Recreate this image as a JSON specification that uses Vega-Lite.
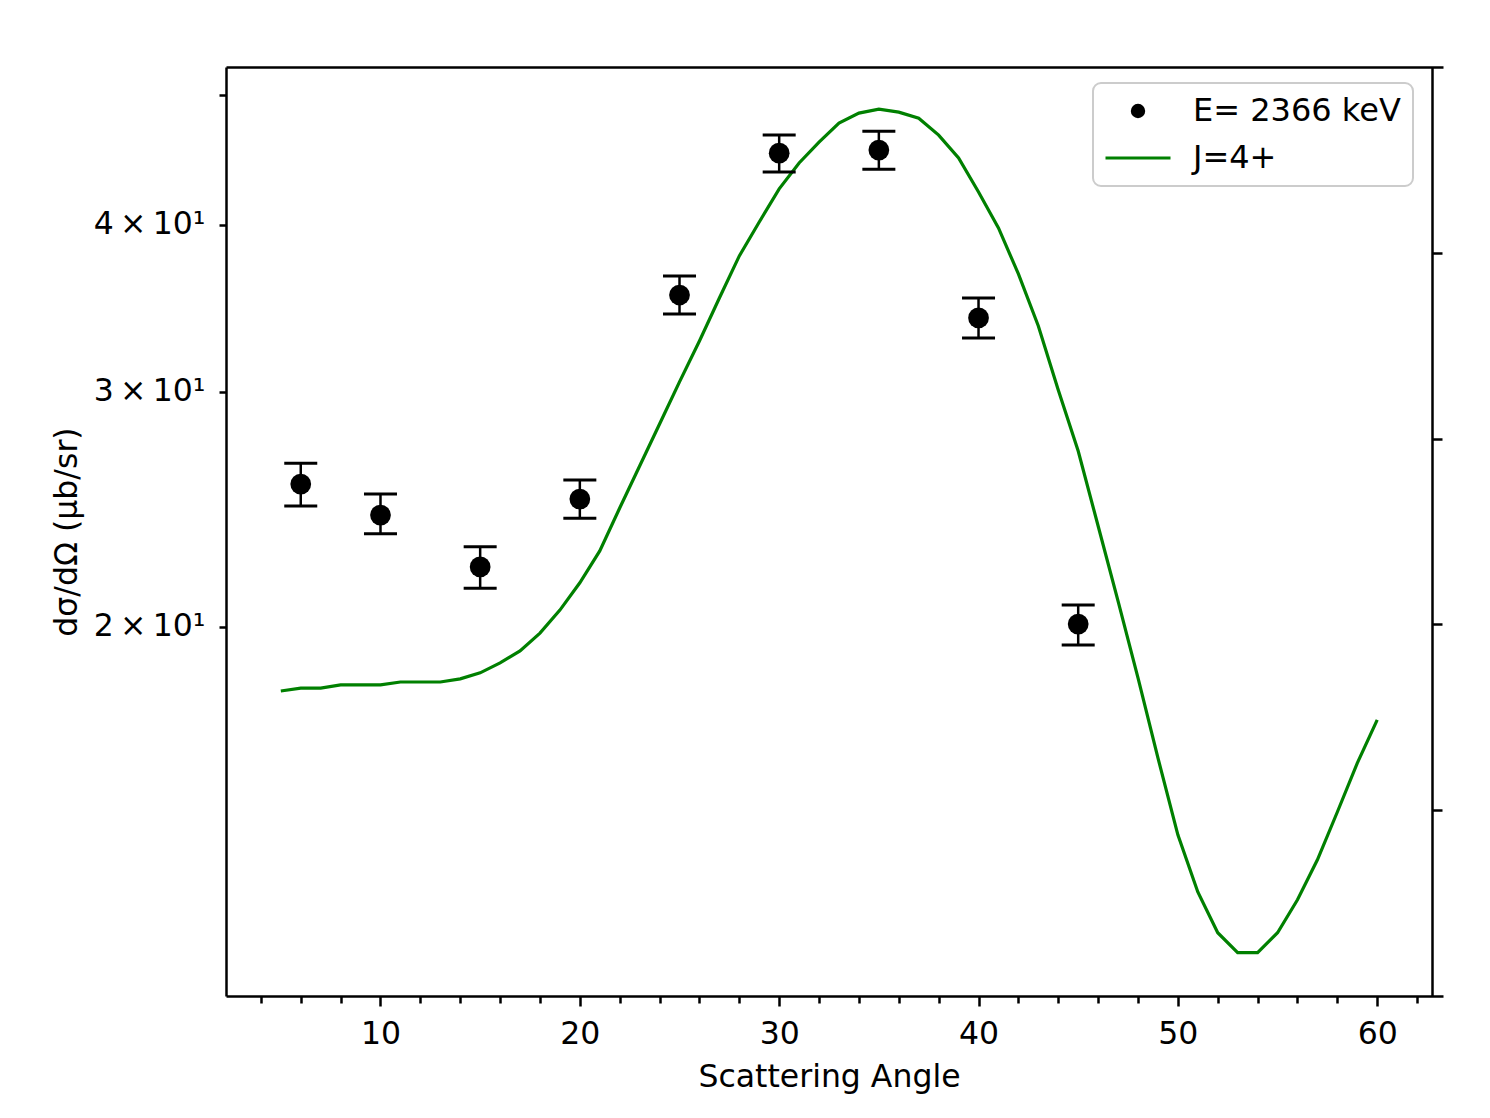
{
  "$schema": "https://vega.github.io/schema/vega-lite/v6.json",
  "autosize": "none",
  "width": 1217,
  "height": 929,
  "padding": {"left": 226, "top": 67, "right": 47, "bottom": 122},
  "background": "white",
  "config": {
    "view": {"stroke": null},
    "axis": {
      "domainColor": "black", "domainWidth": 2.5, "tickColor": "black", "tickWidth": 2.5,
      "grid": false, "labelFont": "DejaVu Sans", "labelFontSize": 31.5, "labelColor": "black",
      "titleFont": "DejaVu Sans", "titleFontSize": 31.5, "titleFontWeight": "normal", "titleColor": "black"
    },
    "legend": {"labelFont": "DejaVu Sans", "labelFontSize": 32, "labelColor": "black", "labelLimit": 0}
  },
  "datasets": {
    "theory": [
      {"angle": 5, "xs": 17.91}, {"angle": 6, "xs": 18.00}, {"angle": 7, "xs": 18.00}, {"angle": 8, "xs": 18.10},
      {"angle": 9, "xs": 18.10}, {"angle": 10, "xs": 18.10}, {"angle": 11, "xs": 18.19}, {"angle": 12, "xs": 18.19},
      {"angle": 13, "xs": 18.19}, {"angle": 14, "xs": 18.29}, {"angle": 15, "xs": 18.48}, {"angle": 16, "xs": 18.80},
      {"angle": 17, "xs": 19.19}, {"angle": 18, "xs": 19.79}, {"angle": 19, "xs": 20.59}, {"angle": 20, "xs": 21.58},
      {"angle": 21, "xs": 22.80}, {"angle": 22, "xs": 24.55}, {"angle": 23, "xs": 26.39}, {"angle": 24, "xs": 28.37},
      {"angle": 25, "xs": 30.51}, {"angle": 26, "xs": 32.73}, {"angle": 27, "xs": 35.25}, {"angle": 28, "xs": 37.90},
      {"angle": 29, "xs": 40.18}, {"angle": 30, "xs": 42.54}, {"angle": 31, "xs": 44.48}, {"angle": 32, "xs": 46.11},
      {"angle": 33, "xs": 47.64}, {"angle": 34, "xs": 48.47}, {"angle": 35, "xs": 48.80}, {"angle": 36, "xs": 48.55},
      {"angle": 37, "xs": 48.05}, {"angle": 38, "xs": 46.67}, {"angle": 39, "xs": 44.86}, {"angle": 40, "xs": 42.31},
      {"angle": 41, "xs": 39.77}, {"angle": 42, "xs": 36.74}, {"angle": 43, "xs": 33.59}, {"angle": 44, "xs": 30.08},
      {"angle": 45, "xs": 27.08}, {"angle": 46, "xs": 23.80}, {"angle": 47, "xs": 20.91}, {"angle": 48, "xs": 18.32},
      {"angle": 49, "xs": 15.96}, {"angle": 50, "xs": 13.98}, {"angle": 51, "xs": 12.67}, {"angle": 52, "xs": 11.81},
      {"angle": 53, "xs": 11.41}, {"angle": 54, "xs": 11.41}, {"angle": 55, "xs": 11.81}, {"angle": 56, "xs": 12.50},
      {"angle": 57, "xs": 13.39}, {"angle": 58, "xs": 14.54}, {"angle": 59, "xs": 15.82}, {"angle": 60, "xs": 17.04}
    ],
    "measured": [
      {"angle": 6, "xs": 25.58, "lo": 24.63, "hi": 26.52},
      {"angle": 10, "xs": 24.25, "lo": 23.48, "hi": 25.15},
      {"angle": 15, "xs": 22.18, "lo": 21.38, "hi": 22.96},
      {"angle": 20, "xs": 24.93, "lo": 24.12, "hi": 25.76},
      {"angle": 25, "xs": 35.43, "lo": 34.29, "hi": 36.61},
      {"angle": 30, "xs": 45.24, "lo": 43.79, "hi": 46.67},
      {"angle": 35, "xs": 45.48, "lo": 44.01, "hi": 46.99},
      {"angle": 40, "xs": 34.06, "lo": 32.90, "hi": 35.25},
      {"angle": 45, "xs": 20.10, "lo": 19.39, "hi": 20.77}
    ],
    "one": [{"k": 0}]
  },
  "resolve": {"scale": {"y": "independent"}, "axis": {"x": "independent", "y": "independent"}},
  "layer": [
    {
      "layer": [
        {
          "data": {"name": "theory"},
          "mark": {"type": "line", "strokeWidth": 3.2, "clip": true},
          "encoding": {
            "x": {"field": "angle", "type": "quantitative",
              "scale": {"domain": [2.25, 63.3], "nice": false, "zero": false},
              "axis": {"orient": "bottom", "values": [10, 20, 30, 40, 50, 60], "tickSize": 10, "labelPadding": 12,
                "title": "Scattering Angle", "titlePadding": 12, "titleX": 603}},
            "y": {"field": "xs", "type": "quantitative",
              "scale": {"type": "log", "domain": [10.59, 52.48], "nice": false, "zero": false},
              "axis": {"orient": "left", "values": [20, 30, 40, 50], "tickSize": 7, "labelPadding": 14,
                "labelExpr": "datum.value == 50 ? '' : (datum.value / 10) + '\u2009×\u200910¹'",
                "title": "dσ/dΩ (µb/sr)", "titlePadding": 10}},
            "color": {"datum": "J=4+", "type": "nominal",
              "scale": {"domain": ["E= 2366 keV", "J=4+"], "range": ["black", "green"]},
              "legend": {
                "title": null, "orient": "none", "legendX": 867, "legendY": 16,
                "fillColor": "white", "strokeColor": "#cccccc", "cornerRadius": 8, "padding": 12,
                "rowPadding": 15, "symbolSize": 120, "symbolOffset": 17, "labelOffset": 39,
                "encode": {
                  "legend": {"update": {"strokeWidth": {"value": 2}}},
                  "symbols": {"update": {
                    "shape": {"signal": "datum.value === 'J=4+' ? 'stroke' : 'circle'"},
                    "size": {"signal": "datum.value === 'J=4+' ? 4225 : 130"},
                    "strokeWidth": {"value": 3},
                    "stroke": {"signal": "datum.value === 'J=4+' ? 'green' : 'transparent'"},
                    "fill": {"signal": "datum.value === 'J=4+' ? 'transparent' : 'black'"},
                    "opacity": {"value": 1}
                  }}
                }
              }}
          }
        },
        {
          "data": {"name": "measured"},
          "mark": {"type": "rule", "color": "black", "strokeWidth": 2.5, "opacity": 1},
          "encoding": {
            "x": {"field": "angle", "type": "quantitative"},
            "y": {"field": "lo", "type": "quantitative"},
            "y2": {"field": "hi"}
          }
        },
        {
          "data": {"name": "measured"},
          "mark": {"type": "tick", "orient": "horizontal", "color": "black", "size": 33, "thickness": 3, "opacity": 1},
          "encoding": {
            "x": {"field": "angle", "type": "quantitative"},
            "y": {"field": "lo", "type": "quantitative"}
          }
        },
        {
          "data": {"name": "measured"},
          "mark": {"type": "tick", "orient": "horizontal", "color": "black", "size": 33, "thickness": 3, "opacity": 1},
          "encoding": {
            "x": {"field": "angle", "type": "quantitative"},
            "y": {"field": "hi", "type": "quantitative"}
          }
        },
        {
          "data": {"name": "measured"},
          "mark": {"type": "point", "filled": true, "size": 430, "opacity": 1, "strokeWidth": 0},
          "encoding": {
            "x": {"field": "angle", "type": "quantitative"},
            "y": {"field": "xs", "type": "quantitative"},
            "color": {"datum": "E= 2366 keV", "type": "nominal"}
          }
        }
      ]
    },
    {
      "data": {"name": "one"},
      "mark": {"type": "point", "opacity": 0},
      "encoding": {
        "x": {"datum": 30, "type": "quantitative",
          "axis": {"orient": "bottom", "values": [4, 6, 8, 12, 14, 16, 18, 22, 24, 26, 28, 32, 34, 36, 38, 42, 44, 46, 48, 52, 54, 56, 58, 62],
            "tickSize": 7, "labels": false, "domain": false, "title": null}}
      }
    },
    {
      "data": {"name": "one"},
      "mark": {"type": "point", "opacity": 0},
      "encoding": {
        "x": {"datum": 30, "type": "quantitative",
          "axis": {"orient": "top", "ticks": false, "labels": false, "domain": true, "title": null}},
        "y": {"datum": 2.5, "type": "quantitative", "scale": {"domain": [0, 5], "nice": false, "zero": false},
          "axis": {"orient": "right", "values": [1, 2, 3, 4], "tickSize": 10, "labels": false, "offset": -11, "domain": true, "title": null}}
      }
    }
  ]
}
